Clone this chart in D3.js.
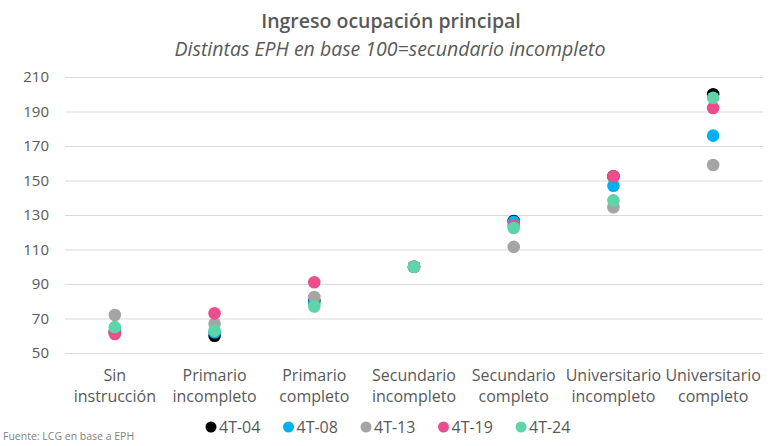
<!DOCTYPE html>
<html>
<head>
<meta charset="utf-8">
<script src="https://cdn.jsdelivr.net/npm/d3@7"></script>
<style>
  body { margin: 0; background: #fff; }
  svg { font-family: "Open Sans", sans-serif; }
</style>
</head>
<body>
<div id="chart"></div>
<script>
// Categories (education level) and the survey waves
const categories = [
    ["Sin", "instrucción"],
    ["Primario", "incompleto"],
    ["Primario", "completo"],
    ["Secundario", "incompleto"],
    ["Secundario", "completo"],
    ["Universitario", "incompleto"],
    ["Universitario", "completo"]
];
const seriesNames = ["4T-04", "4T-08", "4T-13", "4T-19", "4T-24"];
const seriesColors = ["#000000", "#00B0F0", "#A5A5A5", "#EA4F8C", "#5DD5A8"];

// Values per series (base 100 = secundario incompleto)
const v0404 = [62, 60, 80.5, 100, 126.5, 152.5, 200];
const v0408 = [63, 62, 79, 100, 126, 147, 176];
const v0413 = [72, 67, 82.5, 100, 111.5, 134.5, 159];
const v0419 = [61, 73, 91, 100, 124, 152.5, 192];
const v0424 = [65, 63, 77, 100, 122.5, 138.5, 198];
const seriesValues = [v0404, v0408, v0413, v0419, v0424];

const yTicks = [50, 70, 90, 110, 130, 150, 170, 190, 210];

function init() {
    const width = 780, height = 446;

    const svg = d3.select("#chart")
        .append("svg")
        .attr("width", width)
        .attr("height", height);

    const x = d3.scaleBand()
        .domain(d3.range(categories.length))
        .range([65, 763]);

    const y = d3.scaleLinear()
        .domain([50, 210])
        .range([353, 77]);

    // Title and subtitle
    svg.append("text")
        .attr("x", 391).attr("y", 28)
        .attr("text-anchor", "middle")
        .attr("font-size", 19.5)
        .attr("font-weight", 600)
        .attr("fill", "#595959")
        .text("Ingreso ocupación principal");

    svg.append("text")
        .attr("x", 390).attr("y", 56)
        .attr("text-anchor", "middle")
        .attr("font-size", 19.5)
        .attr("font-style", "italic")
        .attr("fill", "#595959")
        .text("Distintas EPH en base 100=secundario incompleto");

    // Gridlines and y labels
    const yAxis = svg.append("g")
        .attr("transform", "translate(65,0)")
        .call(d3.axisLeft(y).tickValues(yTicks).tickSize(-(763 - 65)).tickPadding(16));
    yAxis.select(".domain").remove();
    yAxis.selectAll(".tick line").attr("stroke", "#D9D9D9").attr("stroke-width", 1);
    yAxis.selectAll(".tick text")
        .attr("font-family", "Open Sans, sans-serif")
        .attr("font-size", 15)
        .attr("fill", "#595959");

    // X labels (two lines)
    const xLab = svg.append("g").selectAll("text")
        .data(categories)
        .join("text")
        .attr("x", (d, i) => x(i) + x.bandwidth() / 2)
        .attr("y", 381)
        .attr("text-anchor", "middle")
        .attr("font-size", 16)
        .attr("fill", "#595959");
    xLab.append("tspan").attr("x", (d, i) => x(i) + x.bandwidth() / 2).text(d => d[0]);
    xLab.append("tspan").attr("x", (d, i) => x(i) + x.bandwidth() / 2).attr("dy", 21).text(d => d[1]);

    // Points
    seriesValues.forEach((vals, s) => {
        svg.append("g").selectAll("circle")
            .data(vals)
            .join("circle")
            .attr("cx", (d, i) => x(i) + x.bandwidth() / 2)
            .attr("cy", d => y(d))
            .attr("r", 6.3)
            .attr("fill", seriesColors[s]);
    });

    // Legend
    const legend = svg.append("g").selectAll("g")
        .data(seriesNames)
        .join("g")
        .attr("transform", (d, i) => `translate(${211 + i * 77.5},427)`);
    legend.append("circle")
        .attr("r", 5.5)
        .attr("fill", (d, i) => seriesColors[i]);
    legend.append("text")
        .attr("x", 8).attr("y", 5.5)
        .attr("font-size", 16)
        .attr("fill", "#595959")
        .text(d => d);

    // Source
    svg.append("text")
        .attr("x", 3).attr("y", 440)
        .attr("font-size", 10.5)
        .attr("fill", "#7F7F7F")
        .text("Fuente: LCG en base a EPH");
}

init();
</script>
</body>
</html>
